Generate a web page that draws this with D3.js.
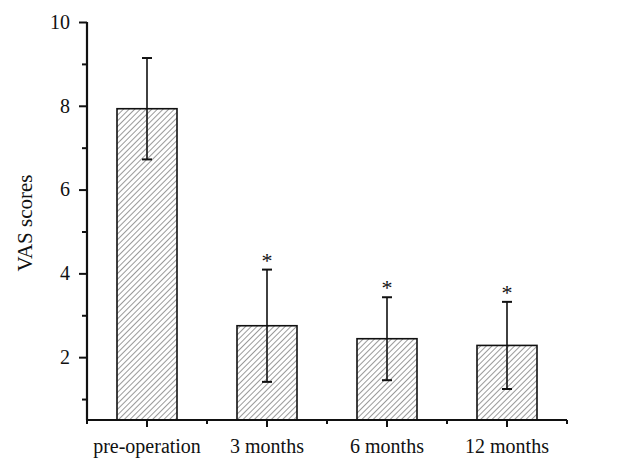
<!DOCTYPE html>
<html><head><meta charset="utf-8">
<script src="https://cdn.jsdelivr.net/npm/d3@7"></script>
<style>body{margin:0;background:#fff}svg text{font-family:"Liberation Serif","Times New Roman",serif;fill:#111}</style>
</head><body>
<svg id="c" width="640" height="475"></svg>
<script>
const categories = ["pre-operation","3 months","6 months","12 months"];
const means = [7.93, 2.75, 2.44, 2.28];
const upperErr = [1.21, 1.34, 0.99, 1.04];
const lowerErr = [1.21, 1.34, 0.99, 1.04];
const stars = ["", "*", "*", "*"];
const yTicks = [2,4,6,8,10];
const yMinorTicks = [1,3,5,7,9];

const svg = d3.select("#c");
const mLeft = 87, mRight = 567, mTop = 22, mBottom = 420;
const x = d3.scaleBand().domain(categories).range([mLeft, mRight]).paddingInner(0.5).paddingOuter(0.25);
const y = d3.scaleLinear().domain([0.5, 10]).range([mBottom, mTop]);

const defs = svg.append("defs");
const pat = defs.append("pattern").attr("id","hatch").attr("patternUnits","userSpaceOnUse")
  .attr("width",4).attr("height",4).attr("patternTransform","rotate(45)");
pat.append("rect").attr("width",4).attr("height",4).attr("fill","#fff");
pat.append("line").attr("x1",0).attr("y1",0).attr("x2",0).attr("y2",4).attr("stroke","#555").attr("stroke-width",1.2);

const g = svg.append("g");
g.selectAll("rect.bar").data(categories).join("rect").attr("class","bar")
  .attr("x", d => x(d)).attr("width", x.bandwidth())
  .attr("y", (d,i) => y(means[i])).attr("height", (d,i) => y(0.5) - y(means[i]))
  .attr("fill","url(#hatch)").attr("stroke","#111").attr("stroke-width",1.6);

const cx = d => x(d) + x.bandwidth()/2;
g.selectAll("line.err").data(categories).join("line").attr("class","err")
  .attr("x1", cx).attr("x2", cx)
  .attr("y1", (d,i) => y(means[i] + upperErr[i])).attr("y2", (d,i) => y(means[i] - lowerErr[i]))
  .attr("stroke","#111").attr("stroke-width",1.6);
g.selectAll("line.capT").data(categories).join("line").attr("class","capT")
  .attr("x1", d => cx(d)-5).attr("x2", d => cx(d)+5)
  .attr("y1", (d,i) => y(means[i] + upperErr[i])).attr("y2", (d,i) => y(means[i] + upperErr[i]))
  .attr("stroke","#111").attr("stroke-width",2);
g.selectAll("line.capB").data(categories).join("line").attr("class","capB")
  .attr("x1", d => cx(d)-5).attr("x2", d => cx(d)+5)
  .attr("y1", (d,i) => y(means[i] - lowerErr[i])).attr("y2", (d,i) => y(means[i] - lowerErr[i]))
  .attr("stroke","#111").attr("stroke-width",2);
g.selectAll("text.star").data(categories).join("text").attr("class","star")
  .attr("x", cx).attr("y", (d,i) => y(means[i] + upperErr[i]) - 2)
  .attr("text-anchor","middle").attr("font-size",22).text((d,i) => stars[i]);

// y axis
const ya = svg.append("g").attr("transform",`translate(${mLeft},0)`)
  .call(d3.axisLeft(y).tickValues(yTicks).tickSize(8).tickPadding(9).tickFormat(d3.format("d")));
ya.select(".domain").attr("d", `M0,${mBottom}V${mTop}`);
svg.append("g").attr("transform",`translate(${mLeft},0)`)
  .call(d3.axisLeft(y).tickValues(yMinorTicks).tickSize(5).tickFormat(""))
  .select(".domain").remove();

// x axis
const xa = svg.append("g").attr("transform",`translate(0,${mBottom})`)
  .call(d3.axisBottom(x).tickSize(7).tickPadding(12));
xa.select(".domain").attr("d", `M${mLeft},0H${mRight}`);
const minorX = [0,1,2,3,4].map(k => mLeft + k * x.step());
svg.append("g").attr("transform",`translate(0,${mBottom})`).selectAll("line").data(minorX).join("line")
  .attr("x1", d => d).attr("x2", d => d).attr("y1",0).attr("y2",4)
  .attr("stroke","#111").attr("stroke-width",2);

svg.selectAll(".tick line").attr("stroke","#111").attr("stroke-width",2);
svg.selectAll(".domain").attr("stroke","#111").attr("stroke-width",2.2);
svg.selectAll(".tick text").attr("font-size",20).attr("font-family","Liberation Serif, serif").attr("fill","#111");

svg.append("text").attr("transform","translate(32,223) rotate(-90)").attr("text-anchor","middle")
  .attr("font-size",21).text("VAS scores");
</script>
</body></html>
